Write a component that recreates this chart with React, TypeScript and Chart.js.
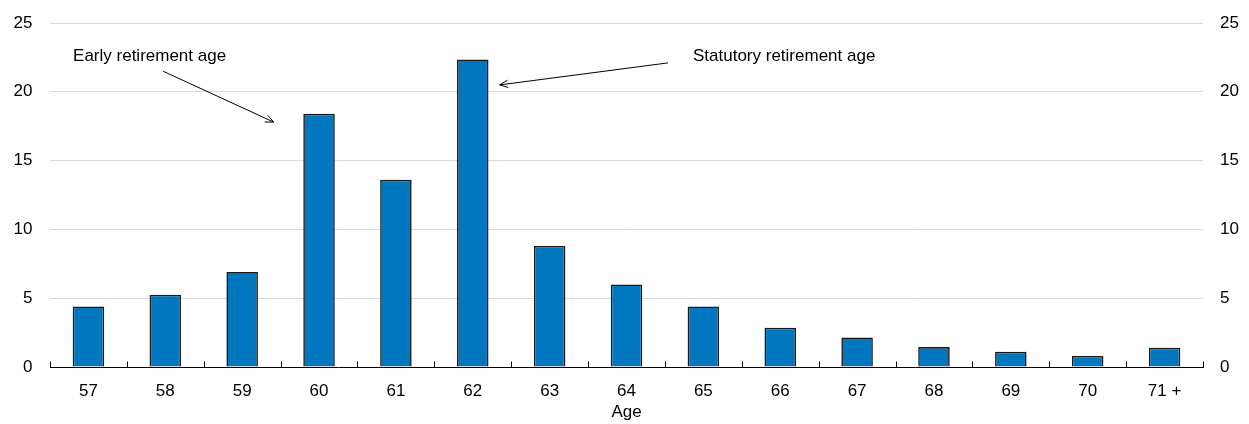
import React, { useEffect, useRef } from "react";
import { Chart, registerables } from "chart.js";

Chart.register(...registerables);

const categories = ["57", "58", "59", "60", "61", "62", "63", "64", "65", "66", "67", "68", "69", "70", "71 +"];
const shares = [4.4, 5.25, 6.9, 18.4, 13.6, 22.35, 8.8, 6.0, 4.4, 2.85, 2.15, 1.45, 1.1, 0.8, 1.4];
const yTicks = [0, 5, 10, 15, 20, 25];
const xTitle = "Age";

// Annotations in data space: x = fractional category index, y = value
const annotations = [
  { text: "Early retirement age", tx: -0.2, ty: 22.55, fx: 0.97, fy: 21.5, ax: 2.41, ay: 17.8 },
  { text: "Statutory retirement age", tx: 7.865, ty: 22.6, fx: 7.54, fy: 22.1, ax: 5.35, ay: 20.5 },
];

const FONT = '"Liberation Sans", Arial, sans-serif';

const annotationPlugin = {
  id: "arrowNotes",
  afterDraw(chart: any) {
    const { ctx } = chart;
    const xs = chart.scales.x;
    const ys = chart.scales.y;
    ctx.save();
    // upward tick marks at category boundaries
    ctx.strokeStyle = "#000";
    ctx.lineWidth = 1;
    const base = Math.round(chart.chartArea.bottom) + 0.5;
    for (let i = 0; i <= categories.length; i++) {
      const x = Math.round(xs.getPixelForValue(i - 0.5)) + 0.5;
      ctx.beginPath();
      ctx.moveTo(x, base);
      ctx.lineTo(x, base - 6);
      ctx.stroke();
    }
    ctx.font = `17px ${FONT}`;
    ctx.fillStyle = "#000";
    ctx.textAlign = "left";
    ctx.textBaseline = "middle";
    for (const a of annotations) {
      ctx.fillText(a.text, xs.getPixelForValue(a.tx), ys.getPixelForValue(a.ty));
      const x1 = xs.getPixelForValue(a.fx);
      const y1 = ys.getPixelForValue(a.fy);
      const x2 = xs.getPixelForValue(a.ax);
      const y2 = ys.getPixelForValue(a.ay);
      ctx.beginPath();
      ctx.moveTo(x1, y1);
      ctx.lineTo(x2, y2);
      ctx.stroke();
      const ang = Math.atan2(y2 - y1, x2 - x1);
      const len = 9;
      const spread = 0.42;
      ctx.beginPath();
      ctx.moveTo(x2 - len * Math.cos(ang - spread), y2 - len * Math.sin(ang - spread));
      ctx.lineTo(x2, y2);
      ctx.lineTo(x2 - len * Math.cos(ang + spread), y2 - len * Math.sin(ang + spread));
      ctx.stroke();
    }
    ctx.restore();
  },
};

export default function App() {
  const ref = useRef<HTMLCanvasElement | null>(null);
  useEffect(() => {
    if (!ref.current) return;
    const tickFont = { family: FONT, size: 17 };
    const chart = new Chart(ref.current, {
      type: "bar",
      data: {
        labels: categories,
        datasets: [
          {
            data: shares,
            backgroundColor: "#0077BF",
            borderColor: "#1a1a1a",
            borderWidth: 1.6,
            borderSkipped: "bottom",
            barPercentage: 0.41,
            categoryPercentage: 1,
            yAxisID: "y",
          },
        ],
      },
      options: {
        animation: false,
        responsive: false,
        layout: { padding: { top: 23, left: 0, right: 0, bottom: 0 } },
        plugins: { legend: { display: false }, tooltip: { enabled: false } },
        scales: {
          x: {
            type: "category",
            offset: true,
            grid: { display: false, drawTicks: false },
            border: { display: true, color: "#000", width: 1 },
            ticks: { color: "#000", font: tickFont, padding: 14, maxRotation: 0, autoSkip: false },
            title: { display: true, text: xTitle, color: "#000", font: tickFont, padding: { top: 0, bottom: 1 } },
            afterFit(s: any) {
              s.height = 57;
              s.paddingLeft = 0;
              s.paddingRight = 0;
            },
          },
          y: {
            position: "left",
            min: 0,
            max: 25,
            afterBuildTicks(s: any) {
              s.ticks = yTicks.map((v) => ({ value: v }));
            },
            grid: {
              drawTicks: false,
              color: (c: any) => (c.tick && c.tick.value === 0 ? "rgba(0,0,0,0)" : "#d9d9d9"),
              lineWidth: 1,
            },
            border: { display: false },
            ticks: { color: "#000", font: tickFont, padding: 17.5 },
            afterFit(s: any) {
              s.width = 50;
              s.paddingTop = 0;
              s.paddingBottom = 0;
            },
          },
          y2: {
            position: "right",
            min: 0,
            max: 25,
            afterBuildTicks(s: any) {
              s.ticks = yTicks.map((v) => ({ value: v }));
            },
            grid: { display: false, drawTicks: false },
            border: { display: false },
            ticks: { color: "#000", font: tickFont, padding: 17 },
            afterFit(s: any) {
              s.width = 46;
              s.paddingTop = 0;
              s.paddingBottom = 0;
            },
          },
        },
      } as any,
      plugins: [annotationPlugin],
    });
    return () => chart.destroy();
  }, []);
  return (
    <div style={{ position: "absolute", left: 0, top: 0, width: 1249, height: 424, background: "#fff" }}>
      <canvas ref={ref} width={1249} height={424} style={{ display: "block" }} />
    </div>
  );
}
